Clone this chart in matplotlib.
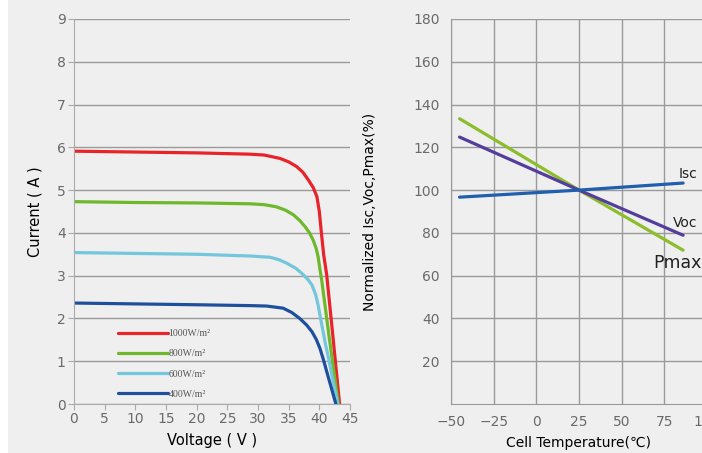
import numpy as np
import matplotlib
matplotlib.use("Agg")
import matplotlib.pyplot as plt
from matplotlib.patches import Rectangle

# I-V curves (voltage V, current A)
v_1000 = [0, 10, 20, 28.7, 31, 33.6, 35, 36.3, 37.3, 38.2, 39.0, 39.6, 40.0, 40.3, 40.7, 41.2, 42.2, 43.3]
i_1000 = [5.91, 5.89, 5.87, 5.84, 5.82, 5.74, 5.66, 5.55, 5.42, 5.24, 5.06, 4.85, 4.50, 4.05, 3.50, 3.02, 1.60, 0.0]

v_800 = [0, 10, 20, 28.7, 31, 33.0, 34.5, 35.8, 36.8, 37.7, 38.4, 39.0, 39.5, 39.8, 40.1, 40.4, 41.7, 43.1]
i_800 = [4.73, 4.71, 4.70, 4.68, 4.66, 4.61, 4.53, 4.42, 4.29, 4.14, 4.00, 3.83, 3.63, 3.44, 3.15, 2.88, 1.46, 0.0]

v_600 = [0, 10, 20, 28.7, 32.0, 33.5, 34.7, 36.2, 37.4, 38.2, 38.8, 39.4, 39.8, 40.4, 41.0, 41.5, 43.0]
i_600 = [3.54, 3.52, 3.50, 3.46, 3.43, 3.37, 3.29, 3.17, 3.02, 2.90, 2.78, 2.56, 2.31, 1.85, 1.40, 1.07, 0.0]

v_400 = [0, 10, 20, 28.7, 31.4, 34.1, 35.5, 36.8, 37.9, 38.8, 39.5, 40.1, 40.7, 41.2, 42.7]
i_400 = [2.36, 2.34, 2.32, 2.30, 2.29, 2.24, 2.14, 2.00, 1.85, 1.69, 1.51, 1.30, 1.02, 0.76, 0.0]

iv_labels = ["1000W/m²", "800W/m²", "600W/m²", "400W/m²"]
iv_colors = ["#e8232a", "#6db82b", "#74c6dc", "#1e4f9c"]

# temperature coefficients (cell temperature in C, normalized %)
temp = [-45, 25, 86]
isc = [96.7, 100, 103.3]
voc = [124.8, 100, 78.9]
pmax = [133.4, 100, 71.9]
temp_colors = {"Isc": "#1f5fae", "Voc": "#553e9b", "Pmax": "#8cbd2b"}

bg = "#efefef"
grid_c = "#9a9a9a"
tick_c = "#6a6a6a"

fig = plt.figure(figsize=(7.02, 4.53), dpi=100, facecolor=bg)
fig.patches.append(Rectangle((0, 0), 8 / 702, 1, transform=fig.transFigure,
                             facecolor="white", edgecolor="none", zorder=0))

# ---- left: I-V curves ----
ax1 = fig.add_axes([74 / 702, 49 / 453, 276 / 702, 385 / 453])
ax1.set_facecolor(bg)
for v, i, lab, c in zip([v_1000, v_800, v_600, v_400],
                        [i_1000, i_800, i_600, i_400], iv_labels, iv_colors):
    ax1.plot(v, i, color=c, lw=2.3, label=lab, solid_capstyle="round",
             solid_joinstyle="round")

ax1.set_xlim(0, 45)
ax1.set_ylim(0, 9)
ax1.set_xticks(np.arange(0, 46, 5))
ax1.set_yticks(np.arange(0, 10, 1))
ax1.yaxis.grid(True, color=grid_c, lw=1)
ax1.set_axisbelow(True)
for s in ["top", "right"]:
    ax1.spines[s].set_visible(False)
for s in ["left", "bottom"]:
    ax1.spines[s].set_color("#aaaaaa")
ax1.tick_params(colors="#aaaaaa", labelcolor=tick_c, labelsize=10, length=4, pad=2)
ax1.set_xlabel("Voltage ( V )", fontsize=10.5, labelpad=5)
ax1.set_ylabel("Current ( A )", fontsize=10.5, labelpad=10)

leg = ax1.legend(loc="upper left", bbox_to_anchor=(0.129, 0.217), frameon=False,
                 handlelength=5.1, handletextpad=0.05, labelspacing=1.15,
                 prop={"family": "Liberation Serif", "size": 7})
for t in leg.get_texts():
    t.set_color("#555555")

# ---- right: temperature dependence ----
ax2 = fig.add_axes([451 / 702, 49 / 453, 256 / 702, 385 / 453])
ax2.set_facecolor(bg)
ax2.plot(temp, pmax, color=temp_colors["Pmax"], lw=2.3, solid_capstyle="round")
ax2.plot(temp, voc, color=temp_colors["Voc"], lw=2.3, solid_capstyle="round")
ax2.plot(temp, isc, color=temp_colors["Isc"], lw=2.3, solid_capstyle="round")

ax2.text(88.9, 107.3, "Isc", fontsize=10, ha="center", va="center", color="#222222")
ax2.text(87.1, 84.4, "Voc", fontsize=10, ha="center", va="center", color="#222222")
ax2.text(82.4, 66.1, "Pmax", fontsize=12.5, ha="center", va="center", color="#222222")

ax2.set_xlim(-50, 100)
ax2.set_ylim(0, 180)
ax2.set_xticks(np.arange(-50, 101, 25))
ax2.set_yticks(np.arange(20, 181, 20))
ax2.grid(True, color=grid_c, lw=1)
ax2.set_axisbelow(True)
for s in ["top", "right"]:
    ax2.spines[s].set_visible(False)
for s in ["left", "bottom"]:
    ax2.spines[s].set_color(grid_c)
ax2.tick_params(length=0, labelcolor=tick_c, labelsize=10, pad=8)
ax2.set_xlabel("Cell Temperature(℃)", fontsize=10, labelpad=5)
ax2.set_ylabel("Normalized Isc,Voc,Pmax(%)", fontsize=10, labelpad=26)

fig.savefig("out.png", dpi=100, facecolor=bg)
